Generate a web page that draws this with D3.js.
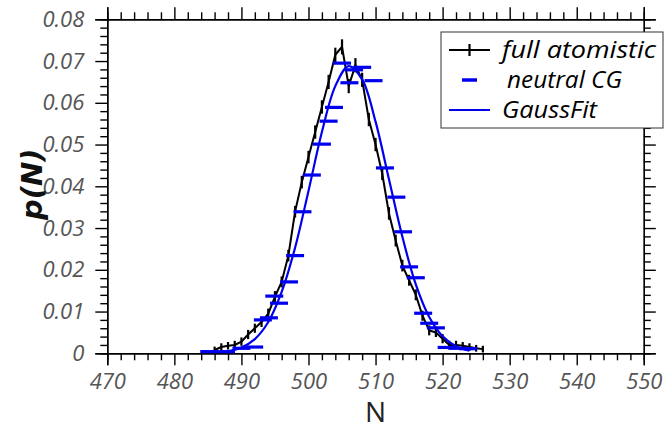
<!DOCTYPE html>
<html><head><meta charset="utf-8">
<script src="https://cdn.jsdelivr.net/npm/d3@7"></script>
<style>body{margin:0;background:#fff}svg{display:block}</style>
</head><body><svg id="c" width="666" height="430"></svg>
<script>
// ---- data ----
const xTicks = [470,480,490,500,510,520,530,540,550];
const yTicks = [0,0.01,0.02,0.03,0.04,0.05,0.06,0.07,0.08];
const yTickLabels = ["0","0.01","0.02","0.03","0.04","0.05","0.06","0.07","0.08"];
const seriesNames = ["full atomistic","neutral CG","GaussFit"];

// full atomistic histogram
const atomN = [486,487,488,489,490,491,492,493,494,495,496,497,498,499,500,501,502,503,504,505,506,507,508,509,510,511,512,513,514,515,516,517,518,519,520,521,522,523,524,525,526];
const atomP = [0.0008,0.0015,0.0018,0.0020,0.0028,0.0045,0.0060,0.0075,0.0095,0.0136,0.0171,0.0234,0.0339,0.0410,0.0470,0.0530,0.0590,0.0650,0.0715,0.0734,0.0640,0.0690,0.0655,0.0560,0.0500,0.0430,0.0335,0.0270,0.0210,0.0175,0.0140,0.0090,0.0055,0.0050,0.0035,0.0020,0.0020,0.0018,0.0015,0.0012,0.0010];
const atomErr = [0.0008,0.0009,0.0009,0.0010,0.0010,0.0011,0.0011,0.0012,0.0012,0.0013,0.0013,0.0014,0.0014,0.0015,0.0015,0.0016,0.0016,0.0017,0.0017,0.0018,0.0017,0.0017,0.0017,0.0016,0.0016,0.0015,0.0015,0.0014,0.0014,0.0013,0.0013,0.0012,0.0012,0.0011,0.0011,0.0010,0.0010,0.0009,0.0009,0.0008,0.0008];

// neutral CG points
const cgN = [485.2,487.7,490.0,491.9,493.2,494.1,494.9,495.6,497.1,498.0,499.1,500.5,502.0,503.0,503.8,505.0,506.1,506.8,508.0,509.7,511.4,513.1,514.1,515.0,516.0,517.1,518.0,519.0,520.6,522.2,523.8];
const cgP = [0.0004,0.0004,0.0012,0.0015,0.0080,0.0085,0.0137,0.0120,0.0171,0.0234,0.0339,0.0427,0.0501,0.0556,0.0589,0.0695,0.0648,0.0679,0.0685,0.0653,0.0444,0.0374,0.0291,0.0207,0.0181,0.0096,0.0072,0.0061,0.0014,0.0012,0.0011];

// Gaussian fit curve
const fitN = [488,490,492,494,496,498,500,502,504,506,508,510,512,514,516,518,520,522,524];
const fitP = [0.0005,0.0014,0.0034,0.0075,0.0147,0.0253,0.0389,0.0530,0.0640,0.0688,0.0656,0.0555,0.0417,0.0279,0.0165,0.0087,0.0041,0.0017,0.0006];

// ---- layout ----
const svg = d3.select("#c");
const L = 107.3, R = 643.8, T = 19.3, B = 353.3;
const x = d3.scaleLinear().domain([470,550]).range([L,R]);
const y = d3.scaleLinear().domain([0,0.08]).range([B,T]);
const font = "'Open Sans', 'Noto Sans', sans-serif";

// minor ticks
const xMinor = d3.range(470,551,2).filter(v => v%10!==0);
const yMinor = d3.range(0,81,2).filter(v => v%10!==0).map(v=>v/1000);

function styleAxis(g){
  g.select(".domain").attr("stroke","#000").attr("stroke-width",1.4);
  g.selectAll(".tick line").attr("stroke","#000").attr("stroke-width",1.4);
}
function addAxis(gen, tr, labels){
  const g = svg.append("g").attr("transform",tr).call(gen);
  styleAxis(g);
  g.selectAll("text").attr("font-family",font).attr("font-style","italic")
    .attr("font-size",22).attr("fill","#555");
  if(!labels) g.selectAll("text").remove();
  return g;
}
// bottom
addAxis(d3.axisBottom(x).tickValues(xTicks).tickFormat(d3.format("d")).tickSize(12).tickPadding(8), `translate(0,${B})`, true);
addAxis(d3.axisBottom(x).tickValues(xMinor).tickSize(7), `translate(0,${B})`, false);
// top
addAxis(d3.axisTop(x).tickValues(xTicks).tickSize(12), `translate(0,${T})`, false);
addAxis(d3.axisTop(x).tickValues(xMinor).tickSize(7), `translate(0,${T})`, false);
// left
addAxis(d3.axisLeft(y).tickValues(yTicks).tickFormat((d,i)=>yTickLabels[i]).tickSize(12).tickPadding(11), `translate(${L},0)`, true);
addAxis(d3.axisLeft(y).tickValues(yMinor).tickSize(7), `translate(${L},0)`, false);
// right
addAxis(d3.axisRight(y).tickValues(yTicks).tickSize(12), `translate(${R},0)`, false);
addAxis(d3.axisRight(y).tickValues(yMinor).tickSize(7), `translate(${R},0)`, false);

// axis titles
svg.append("text").attr("x",(L+R)/2).attr("y",422).attr("text-anchor","middle")
  .attr("font-family",font).attr("font-size",28).attr("fill","#222").text("N");
svg.append("text").attr("transform",`translate(42,${(T+B)/2 - 2}) rotate(-90)`)
  .attr("text-anchor","middle").attr("font-family","'DejaVu Sans', sans-serif").attr("font-style","oblique")
  .attr("font-weight","bold").attr("font-size",29).attr("fill","#111").text("p(N)");

// ---- marks ----
const plot = svg.append("g");
const atom = atomN.map((n,i)=>({n,p:atomP[i],e:atomErr[i]}));
plot.append("path").datum(atom).attr("fill","none").attr("stroke","#000").attr("stroke-width",2)
  .attr("d", d3.line().x(d=>x(d.n)).y(d=>y(d.p)));
plot.selectAll(".eb").data(atom).join("line").attr("class","eb")
  .attr("x1",d=>x(d.n)).attr("x2",d=>x(d.n))
  .attr("y1",d=>y(Math.max(0,d.p-d.e))).attr("y2",d=>y(d.p+d.e))
  .attr("stroke","#000").attr("stroke-width",2.2);

const fit = fitN.map((n,i)=>({n,p:fitP[i]}));
plot.append("path").datum(fit).attr("fill","none").attr("stroke","#0000ee").attr("stroke-width",2.2)
  .attr("d", d3.line().curve(d3.curveCatmullRom).x(d=>x(d.n)).y(d=>y(d.p)));

const cg = cgN.map((n,i)=>({n,p:cgP[i]}));
plot.selectAll(".cg").data(cg).join("line").attr("class","cg")
  .attr("x1",d=>x(d.n)-9).attr("x2",d=>x(d.n)+9)
  .attr("y1",d=>y(d.p)).attr("y2",d=>y(d.p))
  .attr("stroke","#0000ee").attr("stroke-width",3.2);

// ---- legend ----
const lg = svg.append("g");
lg.append("rect").attr("x",441).attr("y",32).attr("width",222).attr("height",96)
  .attr("fill","#fff").attr("stroke","#333").attr("stroke-width",1);
const rows = [50,80,110];
// full atomistic
lg.append("line").attr("x1",449).attr("x2",490).attr("y1",rows[0]).attr("y2",rows[0]).attr("stroke","#000").attr("stroke-width",2.2);
lg.append("line").attr("x1",469.5).attr("x2",469.5).attr("y1",rows[0]-6).attr("y2",rows[0]+6).attr("stroke","#000").attr("stroke-width",2.2);
// neutral CG
lg.append("line").attr("x1",462).attr("x2",477).attr("y1",rows[1]).attr("y2",rows[1]).attr("stroke","#0000ee").attr("stroke-width",3.5);
// GaussFit
lg.append("line").attr("x1",449).attr("x2",490).attr("y1",rows[2]).attr("y2",rows[2]).attr("stroke","#0000ee").attr("stroke-width",2.2);
const tx = [502,507,502];
const tlen = [154,115,95];
seriesNames.forEach((s,i)=>{
  lg.append("text").attr("x",tx[i]).attr("y",rows[i]+8).attr("font-family",font)
    .attr("font-style","italic").attr("font-size",24).attr("fill","#000")
    .attr("textLength",tlen[i]).attr("lengthAdjust","spacingAndGlyphs").text(s);
});
</script></body></html>
